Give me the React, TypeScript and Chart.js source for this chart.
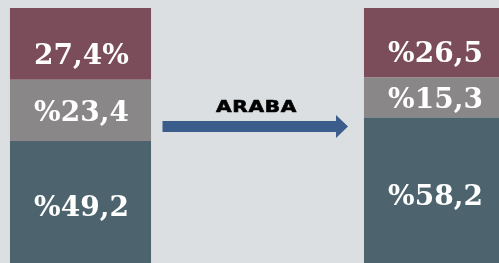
import React, { useEffect, useRef } from "react";
import { Chart, registerables } from "chart.js";

Chart.register(...registerables);

const categories = ["Önce", "", "Sonra"];
const bottomValues = [49.2, null, 58.2];
const middleValues = [23.4, null, 15.3];
const topValues = [27.4, null, 26.5];
const topPercentAfter = [true, false, false];
const arrowLabel = "ARABA";

const fmt = (v: number, after: boolean) => {
  const s = v.toFixed(1).replace(".", ",");
  return after ? s + "%" : "%" + s;
};

const labelPlugin = {
  id: "labelsAndArrow",
  afterDatasetsDraw(chart: any) {
    const ctx = chart.ctx;
    ctx.save();
    ctx.fillStyle = "#ffffff";
    ctx.font = "bold 28px 'DejaVu Serif'";
    ctx.textAlign = "center";
    ctx.textBaseline = "middle";
    chart.data.datasets.forEach((ds: any, di: number) => {
      const meta = chart.getDatasetMeta(di);
      meta.data.forEach((bar: any, i: number) => {
        const v = ds.data[i];
        if (v == null) return;
        const c = bar.getCenterPoint();
        const dy = di === 2 ? 12.5 : 3.5;
        ctx.fillText(fmt(v, di === 2 && topPercentAfter[i]), c.x + 1, c.y + dy);
      });
    });
    // arrow in middle category
    const x = chart.scales.x.getPixelForValue(1);
    const y = 126;
    const left = x - 95;
    const tip = x + 90.5;
    ctx.fillStyle = "#3a5d8b";
    ctx.fillRect(left, y - 5, tip - 11 - left, 11);
    ctx.beginPath();
    ctx.moveTo(tip - 12, y - 11);
    ctx.lineTo(tip, y + 0.5);
    ctx.lineTo(tip - 12, y + 12);
    ctx.closePath();
    ctx.fill();
    // label
    ctx.save();
    ctx.fillStyle = "#000000";
    ctx.strokeStyle = "#000000";
    ctx.lineWidth = 0.6;
    ctx.font = "bold 16px 'DejaVu Sans'";
    ctx.textBaseline = "alphabetic";
    ctx.textAlign = "center";
    (ctx as any).letterSpacing = "0.5px";
    ctx.translate(x - 1, 111.5);
    ctx.scale(1.26, 1);
    ctx.fillText(arrowLabel, 0, 0);
    ctx.strokeText(arrowLabel, 0, 0);
    ctx.restore();
    ctx.restore();
  },
};

export default function App() {
  const ref = useRef<HTMLCanvasElement>(null);
  useEffect(() => {
    document.body.style.overflow = "hidden";
    const chart = new Chart(ref.current!, {
      type: "bar",
      data: {
        labels: categories,
        datasets: [
          { data: bottomValues, backgroundColor: "#4d646e" },
          { data: middleValues, backgroundColor: "#898788" },
          { data: topValues, backgroundColor: "#7b4c5a" },
        ] as any,
      },
      options: {
        animation: false,
        responsive: false,
        maintainAspectRatio: false,
        layout: { padding: { top: 8, bottom: 0, left: 0, right: 0 } },
        datasets: { bar: { categoryPercentage: 1, barPercentage: 0.797, borderWidth: 0 } },
        scales: {
          x: { display: false, stacked: true },
          y: { display: false, stacked: true, min: 0, max: 100 },
        },
        plugins: { legend: { display: false }, tooltip: { enabled: false } },
      },
      plugins: [labelPlugin],
    });
    return () => chart.destroy();
  }, []);
  return (
    <div
      style={{
        position: "absolute",
        left: 0,
        top: 0,
        width: 499,
        height: 263,
        overflow: "hidden",
        background: "#dcdfe2",
      }}
    >
      <canvas
        ref={ref}
        width={531}
        height={270}
        style={{ position: "absolute", left: -8, top: 0, width: 531, height: 270 }}
      />
    </div>
  );
}
